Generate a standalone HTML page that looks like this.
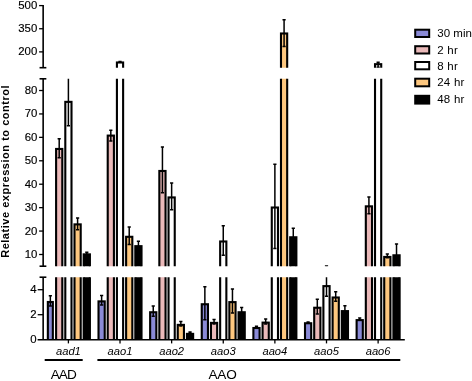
<!DOCTYPE html>
<html lang="en"><head><meta charset="utf-8"><title>Relative expression to control</title>
<style>html,body{margin:0;padding:0;background:#fff}svg{display:block}svg{will-change:transform}</style></head>
<body>
<svg width="472" height="381" viewBox="0 0 472 381" font-family="'Liberation Sans', Arial, sans-serif">
<rect width="472" height="381" fill="#fff"/>
<defs>
<clipPath id="cU"><rect x="0" y="0" width="472" height="67.7"/></clipPath>
<clipPath id="cM"><rect x="0" y="78.8" width="472" height="187.39999999999998"/></clipPath>
<clipPath id="cL"><rect x="0" y="277.2" width="472" height="62.5"/></clipPath>
</defs>
<g clip-path="url(#cU)">
<rect x="116.92" y="62.49" width="6.20" height="20.86" fill="#ffffff" stroke="#000" stroke-width="2.1"/>
<path d="M120.02 60.98V61.90M118.42 61.48H121.62M118.42 61.40H121.62" stroke="#000" stroke-width="1.5" fill="none"/>
<rect x="280.98" y="33.49" width="6.20" height="49.86" fill="#fdc77f" stroke="#000" stroke-width="2.1"/>
<path d="M284.08 19.17V47.09M282.48 19.67H285.68M282.48 46.59H285.68" stroke="#000" stroke-width="1.5" fill="none"/>
<rect x="375.02" y="64.19" width="6.20" height="19.16" fill="#ffffff" stroke="#000" stroke-width="2.1"/>
<path d="M378.12 61.82V67.76M376.52 62.32H379.72M376.52 67.26H379.72" stroke="#000" stroke-width="1.5" fill="none"/>
</g>
<g clip-path="url(#cM)">
<rect x="56.10" y="148.95" width="6.20" height="133.30" fill="#eab9b9" stroke="#000" stroke-width="2.1"/>
<path d="M59.20 138.30V158.21M57.60 138.80H60.80M57.60 157.71H60.80" stroke="#000" stroke-width="1.5" fill="none"/>
<rect x="65.30" y="101.87" width="6.20" height="180.38" fill="#ffffff" stroke="#000" stroke-width="2.1"/>
<path d="M68.40 75.29V126.35M66.80 75.79H70.00M66.80 125.85H70.00" stroke="#000" stroke-width="1.5" fill="none"/>
<rect x="74.50" y="224.38" width="6.20" height="57.87" fill="#fdc77f" stroke="#000" stroke-width="2.1"/>
<path d="M77.60 217.48V230.36M76.00 217.98H79.20M76.00 229.86H79.20" stroke="#000" stroke-width="1.5" fill="none"/>
<rect x="83.70" y="254.37" width="6.20" height="27.88" fill="#000000" stroke="#000" stroke-width="2.1"/>
<path d="M86.80 251.68V254.96M85.20 252.18H88.40M85.20 254.46H88.40" stroke="#000" stroke-width="1.5" fill="none"/>
<rect x="107.72" y="135.60" width="6.20" height="146.65" fill="#eab9b9" stroke="#000" stroke-width="2.1"/>
<path d="M110.82 129.87V141.58M109.22 130.37H112.42M109.22 141.08H112.42" stroke="#000" stroke-width="1.5" fill="none"/>
<rect x="116.92" y="-44.30" width="6.20" height="326.55" fill="#ffffff" stroke="#000" stroke-width="2.1"/>
<path d="M120.02 -52.38V-38.32M118.42 -51.88H121.62M118.42 -38.82H121.62" stroke="#000" stroke-width="1.5" fill="none"/>
<rect x="126.12" y="236.80" width="6.20" height="45.45" fill="#fdc77f" stroke="#000" stroke-width="2.1"/>
<path d="M129.22 226.38V245.12M127.62 226.88H130.82M127.62 244.62H130.82" stroke="#000" stroke-width="1.5" fill="none"/>
<rect x="135.32" y="246.17" width="6.20" height="36.08" fill="#000000" stroke="#000" stroke-width="2.1"/>
<path d="M138.42 240.67V249.57M136.82 241.17H140.02M136.82 249.07H140.02" stroke="#000" stroke-width="1.5" fill="none"/>
<rect x="159.34" y="170.97" width="6.20" height="111.28" fill="#eab9b9" stroke="#000" stroke-width="2.1"/>
<path d="M162.44 146.50V193.35M160.84 147.00H164.04M160.84 192.85H164.04" stroke="#000" stroke-width="1.5" fill="none"/>
<rect x="168.54" y="197.44" width="6.20" height="84.81" fill="#ffffff" stroke="#000" stroke-width="2.1"/>
<path d="M171.64 182.57V210.21M170.04 183.07H173.24M170.04 209.71H173.24" stroke="#000" stroke-width="1.5" fill="none"/>
<rect x="220.16" y="241.48" width="6.20" height="40.77" fill="#ffffff" stroke="#000" stroke-width="2.1"/>
<path d="M223.26 225.21V255.66M221.66 225.71H224.86M221.66 255.16H224.86" stroke="#000" stroke-width="1.5" fill="none"/>
<rect x="271.78" y="207.52" width="6.20" height="74.73" fill="#ffffff" stroke="#000" stroke-width="2.1"/>
<path d="M274.88 163.83V249.10M273.28 164.33H276.48M273.28 248.60H276.48" stroke="#000" stroke-width="1.5" fill="none"/>
<rect x="280.98" y="-484.69" width="6.20" height="766.94" fill="#fdc77f" stroke="#000" stroke-width="2.1"/>
<path d="M284.08 -687.20V-263.20M282.48 -686.70H285.68M282.48 -263.70H285.68" stroke="#000" stroke-width="1.5" fill="none"/>
<rect x="290.18" y="237.27" width="6.20" height="44.98" fill="#000000" stroke="#000" stroke-width="2.1"/>
<path d="M293.28 227.78V244.65M291.68 228.28H294.88M291.68 244.15H294.88" stroke="#000" stroke-width="1.5" fill="none"/>
<path d="M326.50 265.50V269.85M324.90 266.00H328.10M324.90 269.35H328.10" stroke="#000" stroke-width="1.5" fill="none"/>
<rect x="365.82" y="206.34" width="6.20" height="75.91" fill="#eab9b9" stroke="#000" stroke-width="2.1"/>
<path d="M368.92 196.39V214.20M367.32 196.89H370.52M367.32 213.70H370.52" stroke="#000" stroke-width="1.5" fill="none"/>
<rect x="375.02" y="-18.53" width="6.20" height="300.78" fill="#ffffff" stroke="#000" stroke-width="2.1"/>
<path d="M378.12 -39.50V50.69M376.52 -39.00H379.72M376.52 50.19H379.72" stroke="#000" stroke-width="1.5" fill="none"/>
<rect x="384.22" y="256.94" width="6.20" height="25.31" fill="#fdc77f" stroke="#000" stroke-width="2.1"/>
<path d="M387.32 253.55V258.24M385.72 254.05H388.92M385.72 257.74H388.92" stroke="#000" stroke-width="1.5" fill="none"/>
<rect x="393.42" y="255.30" width="6.20" height="26.95" fill="#000000" stroke="#000" stroke-width="2.1"/>
<path d="M396.52 243.48V265.03M394.92 243.98H398.12M394.92 264.53H398.12" stroke="#000" stroke-width="1.5" fill="none"/>
</g>
<g clip-path="url(#cL)">
<rect x="47.85" y="302.00" width="5.00" height="38.75" fill="#8a8ad6" stroke="#000" stroke-width="2.1"/>
<path d="M50.35 295.32V306.57M48.75 295.82H51.95M48.75 306.07H51.95" stroke="#000" stroke-width="1.5" fill="none"/>
<rect x="56.10" y="-353.00" width="6.20" height="693.75" fill="#eab9b9" stroke="#000" stroke-width="2.1"/>
<path d="M59.20 -405.30V-299.05M57.60 -404.80H60.80M57.60 -299.55H60.80" stroke="#000" stroke-width="1.5" fill="none"/>
<rect x="65.30" y="-604.25" width="6.20" height="945.00" fill="#ffffff" stroke="#000" stroke-width="2.1"/>
<path d="M68.40 -741.55V-469.05M66.80 -741.05H70.00M66.80 -469.55H70.00" stroke="#000" stroke-width="1.5" fill="none"/>
<rect x="74.50" y="49.50" width="6.20" height="291.25" fill="#fdc77f" stroke="#000" stroke-width="2.1"/>
<path d="M77.60 17.20V85.95M76.00 17.70H79.20M76.00 85.45H79.20" stroke="#000" stroke-width="1.5" fill="none"/>
<rect x="83.70" y="209.50" width="6.20" height="131.25" fill="#000000" stroke="#000" stroke-width="2.1"/>
<path d="M86.80 199.70V217.20M85.20 200.20H88.40M85.20 216.70H88.40" stroke="#000" stroke-width="1.5" fill="none"/>
<rect x="98.52" y="301.38" width="6.20" height="39.38" fill="#8a8ad6" stroke="#000" stroke-width="2.1"/>
<path d="M101.62 295.07V305.57M100.02 295.57H103.22M100.02 305.07H103.22" stroke="#000" stroke-width="1.5" fill="none"/>
<rect x="107.72" y="-424.25" width="6.20" height="765.00" fill="#eab9b9" stroke="#000" stroke-width="2.1"/>
<path d="M110.82 -450.30V-387.80M109.22 -449.80H112.42M109.22 -388.30H112.42" stroke="#000" stroke-width="1.5" fill="none"/>
<rect x="116.92" y="-1384.25" width="6.20" height="1725.00" fill="#ffffff" stroke="#000" stroke-width="2.1"/>
<path d="M120.02 -1422.80V-1347.80M118.42 -1422.30H121.62M118.42 -1348.30H121.62" stroke="#000" stroke-width="1.5" fill="none"/>
<rect x="126.12" y="115.75" width="6.20" height="225.00" fill="#fdc77f" stroke="#000" stroke-width="2.1"/>
<path d="M129.22 64.70V164.70M127.62 65.20H130.82M127.62 164.20H130.82" stroke="#000" stroke-width="1.5" fill="none"/>
<rect x="135.32" y="165.75" width="6.20" height="175.00" fill="#000000" stroke="#000" stroke-width="2.1"/>
<path d="M138.42 140.95V188.45M136.82 141.45H140.02M136.82 187.95H140.02" stroke="#000" stroke-width="1.5" fill="none"/>
<rect x="150.14" y="312.25" width="6.20" height="28.50" fill="#8a8ad6" stroke="#000" stroke-width="2.1"/>
<path d="M153.24 305.57V316.82M151.64 306.07H154.84M151.64 316.32H154.84" stroke="#000" stroke-width="1.5" fill="none"/>
<rect x="159.34" y="-235.50" width="6.20" height="576.25" fill="#eab9b9" stroke="#000" stroke-width="2.1"/>
<path d="M162.44 -361.55V-111.55M160.84 -361.05H164.04M160.84 -112.05H164.04" stroke="#000" stroke-width="1.5" fill="none"/>
<rect x="168.54" y="-94.25" width="6.20" height="435.00" fill="#ffffff" stroke="#000" stroke-width="2.1"/>
<path d="M171.64 -169.05V-21.55M170.04 -168.55H173.24M170.04 -22.05H173.24" stroke="#000" stroke-width="1.5" fill="none"/>
<rect x="177.74" y="324.88" width="6.20" height="15.88" fill="#fdc77f" stroke="#000" stroke-width="2.1"/>
<path d="M180.84 321.07V326.57M179.24 321.57H182.44M179.24 326.07H182.44" stroke="#000" stroke-width="1.5" fill="none"/>
<rect x="186.94" y="333.88" width="6.20" height="6.88" fill="#000000" stroke="#000" stroke-width="2.1"/>
<path d="M190.04 331.57V334.07M188.44 332.07H191.64M188.44 333.57H191.64" stroke="#000" stroke-width="1.5" fill="none"/>
<rect x="201.76" y="304.25" width="6.20" height="36.50" fill="#8a8ad6" stroke="#000" stroke-width="2.1"/>
<path d="M204.86 286.20V320.20M203.26 286.70H206.46M203.26 319.70H206.46" stroke="#000" stroke-width="1.5" fill="none"/>
<rect x="210.96" y="322.88" width="6.20" height="17.88" fill="#eab9b9" stroke="#000" stroke-width="2.1"/>
<path d="M214.06 319.07V324.57M212.46 319.57H215.66M212.46 324.07H215.66" stroke="#000" stroke-width="1.5" fill="none"/>
<rect x="220.16" y="140.75" width="6.20" height="200.00" fill="#ffffff" stroke="#000" stroke-width="2.1"/>
<path d="M223.26 58.45V220.95M221.66 58.95H224.86M221.66 220.45H224.86" stroke="#000" stroke-width="1.5" fill="none"/>
<rect x="229.36" y="302.12" width="6.20" height="38.62" fill="#fdc77f" stroke="#000" stroke-width="2.1"/>
<path d="M232.46 288.57V313.57M230.86 289.07H234.06M230.86 313.07H234.06" stroke="#000" stroke-width="1.5" fill="none"/>
<rect x="238.56" y="312.25" width="6.20" height="28.50" fill="#000000" stroke="#000" stroke-width="2.1"/>
<path d="M241.66 307.07V315.32M240.06 307.57H243.26M240.06 314.82H243.26" stroke="#000" stroke-width="1.5" fill="none"/>
<rect x="253.38" y="328.00" width="6.20" height="12.75" fill="#8a8ad6" stroke="#000" stroke-width="2.1"/>
<path d="M256.48 325.70V328.20M254.88 326.20H258.08M254.88 327.70H258.08" stroke="#000" stroke-width="1.5" fill="none"/>
<rect x="262.58" y="322.62" width="6.20" height="18.12" fill="#eab9b9" stroke="#000" stroke-width="2.1"/>
<path d="M265.68 318.57V324.57M264.08 319.07H267.28M264.08 324.07H267.28" stroke="#000" stroke-width="1.5" fill="none"/>
<rect x="271.78" y="-40.50" width="6.20" height="381.25" fill="#ffffff" stroke="#000" stroke-width="2.1"/>
<path d="M274.88 -269.05V185.95M273.28 -268.55H276.48M273.28 185.45H276.48" stroke="#000" stroke-width="1.5" fill="none"/>
<rect x="280.98" y="-3734.25" width="6.20" height="4075.00" fill="#fdc77f" stroke="#000" stroke-width="2.1"/>
<path d="M284.08 -4810.30V-2547.80M282.48 -4809.80H285.68M282.48 -2548.30H285.68" stroke="#000" stroke-width="1.5" fill="none"/>
<rect x="290.18" y="118.25" width="6.20" height="222.50" fill="#000000" stroke="#000" stroke-width="2.1"/>
<path d="M293.28 72.20V162.20M291.68 72.70H294.88M291.68 161.70H294.88" stroke="#000" stroke-width="1.5" fill="none"/>
<rect x="305.00" y="323.25" width="6.20" height="17.50" fill="#8a8ad6" stroke="#000" stroke-width="2.1"/>
<path d="M308.10 321.45V322.95M306.50 321.95H309.70M306.50 322.45H309.70" stroke="#000" stroke-width="1.5" fill="none"/>
<rect x="314.20" y="307.75" width="6.20" height="33.00" fill="#eab9b9" stroke="#000" stroke-width="2.1"/>
<path d="M317.30 298.82V314.57M315.70 299.32H318.90M315.70 314.07H318.90" stroke="#000" stroke-width="1.5" fill="none"/>
<rect x="323.40" y="286.12" width="6.20" height="54.62" fill="#ffffff" stroke="#000" stroke-width="2.1"/>
<path d="M326.50 273.45V296.70M324.90 273.95H328.10M324.90 296.20H328.10" stroke="#000" stroke-width="1.5" fill="none"/>
<rect x="332.60" y="297.50" width="6.20" height="43.25" fill="#fdc77f" stroke="#000" stroke-width="2.1"/>
<path d="M335.70 291.20V301.70M334.10 291.70H337.30M334.10 301.20H337.30" stroke="#000" stroke-width="1.5" fill="none"/>
<rect x="341.80" y="311.12" width="6.20" height="29.62" fill="#000000" stroke="#000" stroke-width="2.1"/>
<path d="M344.90 305.32V314.82M343.30 305.82H346.50M343.30 314.32H346.50" stroke="#000" stroke-width="1.5" fill="none"/>
<rect x="356.62" y="320.12" width="6.20" height="20.62" fill="#8a8ad6" stroke="#000" stroke-width="2.1"/>
<path d="M359.72 317.45V320.70M358.12 317.95H361.32M358.12 320.20H361.32" stroke="#000" stroke-width="1.5" fill="none"/>
<rect x="365.82" y="-46.75" width="6.20" height="387.50" fill="#eab9b9" stroke="#000" stroke-width="2.1"/>
<path d="M368.92 -95.30V-0.30M367.32 -94.80H370.52M367.32 -0.80H370.52" stroke="#000" stroke-width="1.5" fill="none"/>
<rect x="375.02" y="-1246.75" width="6.20" height="1587.50" fill="#ffffff" stroke="#000" stroke-width="2.1"/>
<path d="M378.12 -1354.05V-872.80M376.52 -1353.55H379.72M376.52 -873.30H379.72" stroke="#000" stroke-width="1.5" fill="none"/>
<rect x="384.22" y="223.25" width="6.20" height="117.50" fill="#fdc77f" stroke="#000" stroke-width="2.1"/>
<path d="M387.32 209.70V234.70M385.72 210.20H388.92M385.72 234.20H388.92" stroke="#000" stroke-width="1.5" fill="none"/>
<rect x="393.42" y="214.50" width="6.20" height="126.25" fill="#000000" stroke="#000" stroke-width="2.1"/>
<path d="M396.52 155.95V270.95M394.92 156.45H398.12M394.92 270.45H398.12" stroke="#000" stroke-width="1.5" fill="none"/>
</g>
<line x1="43.15" y1="4.949999999999999" x2="43.15" y2="67.7" stroke="#000" stroke-width="1.6"/>
<line x1="39.55" y1="67.7" x2="46.35" y2="67.7" stroke="#000" stroke-width="1.6"/>
<line x1="43.15" y1="78.8" x2="43.15" y2="266.2" stroke="#000" stroke-width="1.6"/>
<line x1="39.55" y1="78.8" x2="46.35" y2="78.8" stroke="#000" stroke-width="1.6"/>
<line x1="39.55" y1="266.2" x2="46.35" y2="266.2" stroke="#000" stroke-width="1.6"/>
<line x1="43.15" y1="277.2" x2="43.15" y2="339.7" stroke="#000" stroke-width="1.6"/>
<line x1="39.55" y1="277.2" x2="46.35" y2="277.2" stroke="#000" stroke-width="1.6"/>
<line x1="37.6" y1="339.7" x2="404.8" y2="339.7" stroke="#000" stroke-width="1.6"/>
<line x1="39.1" y1="5.60" x2="43.15" y2="5.60" stroke="#000" stroke-width="1.3"/>
<text x="37.3" y="9.15" font-size="11.4" stroke="#000" stroke-width="0.15" text-anchor="end">500</text>
<line x1="39.1" y1="28.74" x2="43.15" y2="28.74" stroke="#000" stroke-width="1.3"/>
<text x="37.3" y="32.29" font-size="11.4" stroke="#000" stroke-width="0.15" text-anchor="end">350</text>
<line x1="39.1" y1="51.88" x2="43.15" y2="51.88" stroke="#000" stroke-width="1.3"/>
<text x="37.3" y="55.42" font-size="11.4" stroke="#000" stroke-width="0.15" text-anchor="end">200</text>
<line x1="39.1" y1="254.49" x2="43.15" y2="254.49" stroke="#000" stroke-width="1.3"/>
<text x="37.3" y="258.04" font-size="11.4" stroke="#000" stroke-width="0.15" text-anchor="end">10</text>
<line x1="39.1" y1="231.06" x2="43.15" y2="231.06" stroke="#000" stroke-width="1.3"/>
<text x="37.3" y="234.61" font-size="11.4" stroke="#000" stroke-width="0.15" text-anchor="end">20</text>
<line x1="39.1" y1="207.64" x2="43.15" y2="207.64" stroke="#000" stroke-width="1.3"/>
<text x="37.3" y="211.19" font-size="11.4" stroke="#000" stroke-width="0.15" text-anchor="end">30</text>
<line x1="39.1" y1="184.21" x2="43.15" y2="184.21" stroke="#000" stroke-width="1.3"/>
<text x="37.3" y="187.76" font-size="11.4" stroke="#000" stroke-width="0.15" text-anchor="end">40</text>
<line x1="39.1" y1="160.79" x2="43.15" y2="160.79" stroke="#000" stroke-width="1.3"/>
<text x="37.3" y="164.34" font-size="11.4" stroke="#000" stroke-width="0.15" text-anchor="end">50</text>
<line x1="39.1" y1="137.36" x2="43.15" y2="137.36" stroke="#000" stroke-width="1.3"/>
<text x="37.3" y="140.91" font-size="11.4" stroke="#000" stroke-width="0.15" text-anchor="end">60</text>
<line x1="39.1" y1="113.94" x2="43.15" y2="113.94" stroke="#000" stroke-width="1.3"/>
<text x="37.3" y="117.49" font-size="11.4" stroke="#000" stroke-width="0.15" text-anchor="end">70</text>
<line x1="39.1" y1="90.51" x2="43.15" y2="90.51" stroke="#000" stroke-width="1.3"/>
<text x="37.3" y="94.06" font-size="11.4" stroke="#000" stroke-width="0.15" text-anchor="end">80</text>
<line x1="37.7" y1="314.70" x2="43.15" y2="314.70" stroke="#000" stroke-width="1.3"/>
<text x="36.5" y="318.25" font-size="11.4" stroke="#000" stroke-width="0.15" text-anchor="end">2</text>
<line x1="37.7" y1="289.70" x2="43.15" y2="289.70" stroke="#000" stroke-width="1.3"/>
<text x="36.5" y="293.25" font-size="11.4" stroke="#000" stroke-width="0.15" text-anchor="end">4</text>
<text x="36.5" y="343.00" font-size="11.4" stroke="#000" stroke-width="0.15" text-anchor="end">0</text>
<line x1="68.40" y1="339.7" x2="68.40" y2="343.4" stroke="#000" stroke-width="1.3"/>
<text x="68.40" y="354.7" font-size="11.2" font-style="italic" text-anchor="middle">aad1</text>
<line x1="120.02" y1="339.7" x2="120.02" y2="343.4" stroke="#000" stroke-width="1.3"/>
<text x="120.02" y="354.7" font-size="11.2" font-style="italic" text-anchor="middle">aao1</text>
<line x1="171.64" y1="339.7" x2="171.64" y2="343.4" stroke="#000" stroke-width="1.3"/>
<text x="171.64" y="354.7" font-size="11.2" font-style="italic" text-anchor="middle">aao2</text>
<line x1="223.26" y1="339.7" x2="223.26" y2="343.4" stroke="#000" stroke-width="1.3"/>
<text x="223.26" y="354.7" font-size="11.2" font-style="italic" text-anchor="middle">aao3</text>
<line x1="274.88" y1="339.7" x2="274.88" y2="343.4" stroke="#000" stroke-width="1.3"/>
<text x="274.88" y="354.7" font-size="11.2" font-style="italic" text-anchor="middle">aao4</text>
<line x1="326.50" y1="339.7" x2="326.50" y2="343.4" stroke="#000" stroke-width="1.3"/>
<text x="326.50" y="354.7" font-size="11.2" font-style="italic" text-anchor="middle">aao5</text>
<line x1="378.12" y1="339.7" x2="378.12" y2="343.4" stroke="#000" stroke-width="1.3"/>
<text x="378.12" y="354.7" font-size="11.2" font-style="italic" text-anchor="middle">aao6</text>
<line x1="44.7" y1="360.0" x2="82.7" y2="360.0" stroke="#000" stroke-width="1.9"/>
<line x1="97.4" y1="360.0" x2="400.3" y2="360.0" stroke="#000" stroke-width="1.9"/>
<text x="63.3" y="379.1" font-size="13.6" letter-spacing="-0.9" text-anchor="middle">AAD</text>
<text x="222.5" y="379.1" font-size="13.6" letter-spacing="-0.25" text-anchor="middle">AAO</text>
<text transform="translate(8.8,171.35) rotate(-90) scale(1.05,1)" font-size="10.5" font-weight="bold" letter-spacing="0.5" text-anchor="middle">Relative expression to control</text>
<rect x="415.20" y="29.70" width="14.00" height="7.30" fill="#8a8ad6" stroke="#000" stroke-width="2"/>
<text x="437.2" y="37.45" font-size="11.5" letter-spacing="0.05">30 min</text>
<rect x="415.20" y="46.20" width="14.00" height="7.30" fill="#eab9b9" stroke="#000" stroke-width="2"/>
<text x="437.2" y="53.95" font-size="11.5" letter-spacing="0.25">2 hr</text>
<rect x="415.20" y="62.00" width="14.00" height="7.30" fill="#ffffff" stroke="#000" stroke-width="2"/>
<text x="437.2" y="69.65" font-size="11.5" letter-spacing="0.25">8 hr</text>
<rect x="415.20" y="78.70" width="14.00" height="7.60" fill="#fdc77f" stroke="#000" stroke-width="2"/>
<text x="437.2" y="86.25" font-size="11.5" letter-spacing="0.25">24 hr</text>
<rect x="415.20" y="95.80" width="14.00" height="7.80" fill="#000000" stroke="#000" stroke-width="2"/>
<text x="437.2" y="103.45" font-size="11.5" letter-spacing="0.25">48 hr</text>
</svg>
</body></html>
